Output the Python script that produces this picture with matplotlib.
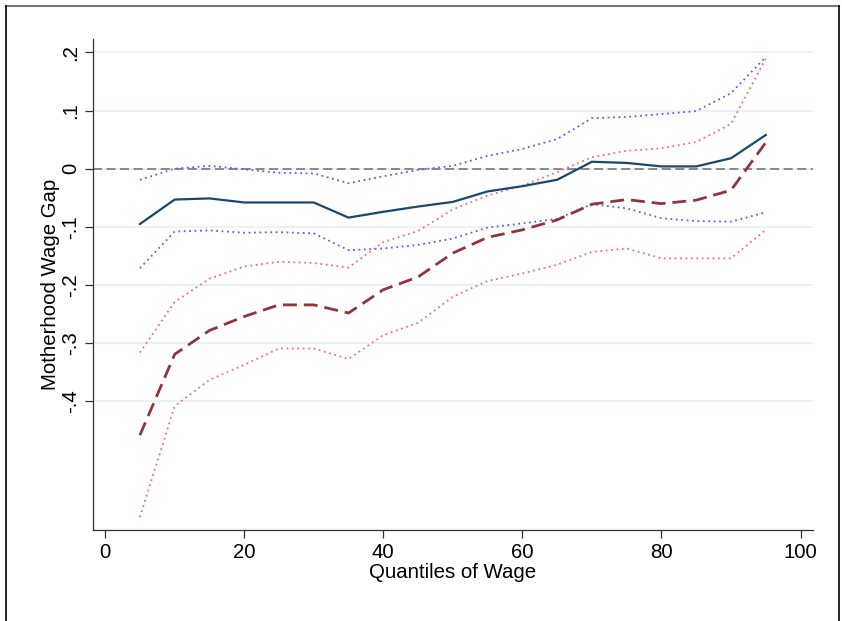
import numpy as np
import matplotlib
matplotlib.use("Agg")
import matplotlib.pyplot as plt
from matplotlib.lines import Line2D

plt.rcParams['font.family'] = ['Liberation Sans', 'DejaVu Sans']

# quantiles of wage
quantiles = [5, 10, 15, 20, 25, 30, 35, 40, 45, 50, 55, 60, 65, 70, 75, 80, 85, 90, 95]

# first series (solid navy) with its confidence band (blue dotted)
est_a = [-0.095, -0.053, -0.051, -0.058, -0.058, -0.058, -0.084, -0.074, -0.065, -0.057,
         -0.039, -0.030, -0.019, 0.012, 0.010, 0.004, 0.004, 0.018, 0.058]
hi_a = [-0.019, 0.000, 0.005, -0.001, -0.007, -0.008, -0.025, -0.013, -0.002, 0.005,
        0.022, 0.034, 0.051, 0.087, 0.089, 0.094, 0.099, 0.130, 0.192]
lo_a = [-0.171, -0.108, -0.106, -0.110, -0.109, -0.111, -0.140, -0.137, -0.131, -0.120,
        -0.101, -0.094, -0.086, -0.061, -0.068, -0.085, -0.090, -0.091, -0.075]

# second series (dashed maroon) with its confidence band (red dotted)
est_b = [-0.458, -0.319, -0.278, -0.254, -0.234, -0.234, -0.248, -0.208, -0.186, -0.145,
         -0.118, -0.105, -0.088, -0.061, -0.053, -0.060, -0.054, -0.037, 0.045]
hi_b = [-0.316, -0.229, -0.189, -0.168, -0.160, -0.162, -0.170, -0.126, -0.107, -0.070,
        -0.046, -0.029, -0.006, 0.020, 0.031, 0.035, 0.046, 0.077, 0.189]
lo_b = [-0.599, -0.408, -0.363, -0.337, -0.309, -0.309, -0.327, -0.286, -0.265, -0.220,
        -0.193, -0.180, -0.165, -0.143, -0.137, -0.154, -0.154, -0.154, -0.105]

yticks = [0.2, 0.1, 0, -0.1, -0.2, -0.3, -0.4]
ytick_labels = [".2", ".1", "0", "-.1", "-.2", "-.3", "-.4"]
xticks = [0, 20, 40, 60, 80, 100]

fig = plt.figure(figsize=(8.42, 6.21), dpi=100)
ax = fig.add_axes([0.110, 0.1465, 0.8556, 0.7907])

for y in yticks:
    ax.axhline(y, color="#eaf2f3", lw=1.4, zorder=0)
ax.axhline(0, color="#808080", lw=1.3, ls=(0, (5, 2.5)), zorder=1)

dots = (0, (1, 2))
ax.plot(quantiles, hi_a, color="#5c5cff", lw=1.3, ls=dots)
ax.plot(quantiles, lo_a, color="#5c5cff", lw=1.3, ls=dots)
ax.plot(quantiles, hi_b, color="#ff6a6a", lw=1.3, ls=dots)
ax.plot(quantiles, lo_b, color="#ff6a6a", lw=1.3, ls=dots)
ax.plot(quantiles, est_a, color="#1a476f", lw=1.6)
ax.plot(quantiles, est_b, color="#90353b", lw=2.0, ls=(0, (5, 2.5)))

ax.set_xlim(-1.8, 101.8)
ax.set_ylim(-0.621, 0.223)
ax.set_xticks(xticks)
ax.set_yticks(yticks)
ax.set_yticklabels(ytick_labels, rotation=90, va="center")
ax.tick_params(labelsize=14.7, length=6, width=0.9, color="#333333", pad=3)

for side in ["top", "right"]:
    ax.spines[side].set_visible(False)
for side in ["left", "bottom"]:
    ax.spines[side].set_color("#333333")
    ax.spines[side].set_linewidth(0.9)

ax.set_xlabel("Quantiles of Wage", fontsize=14.7, labelpad=1)
ax.set_ylabel("Motherhood Wage Gap", fontsize=14.7, labelpad=1)

# outer frame of the screenshot
fig.add_artist(Line2D([0.0075, 0.997], [0.9905, 0.9905], color="#777777", lw=1.5))
fig.add_artist(Line2D([0.0075, 0.0075], [0.0, 0.9905], color="black", lw=1.2))
fig.add_artist(Line2D([0.9965, 0.9965], [0.0, 0.9905], color="black", lw=1.2))

fig.savefig("out.png", dpi=100)
